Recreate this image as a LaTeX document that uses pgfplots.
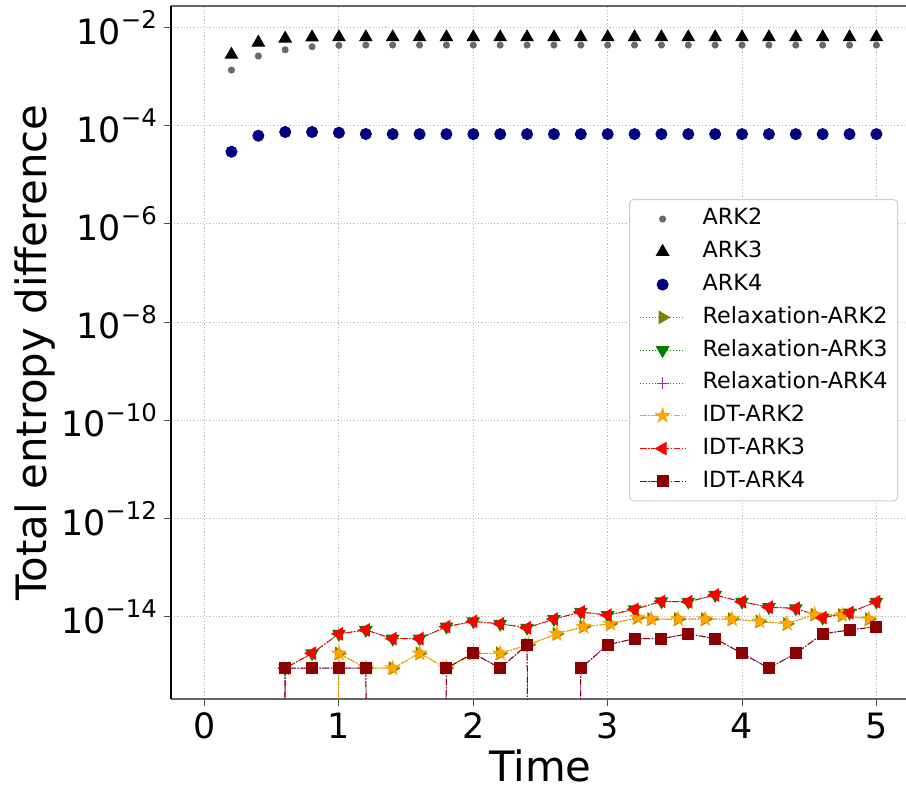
\documentclass[border=0pt]{standalone}
\usepackage{pgfplots}
\pgfplotsset{compat=1.18}
\usepackage{fontspec}
\setmainfont{DejaVu Sans}
\usetikzlibrary{plotmarks}

\definecolor{cark2}{HTML}{696969}
\definecolor{cark4}{HTML}{000080}
\definecolor{colive}{HTML}{808000}
\definecolor{cgreen}{HTML}{008000}
\definecolor{cviolet}{HTML}{8A2BE2}
\definecolor{corange}{HTML}{FFA500}
\definecolor{cred}{HTML}{FF0000}
\definecolor{cdred}{HTML}{8B0000}

\pgfdeclareplotmark{fstar}{%
  \pgfpathmoveto{\pgfpointpolar{90}{\pgfplotmarksize}}%
  \pgfpathlineto{\pgfpointpolar{126}{0.382\pgfplotmarksize}}%
  \pgfpathlineto{\pgfpointpolar{162}{\pgfplotmarksize}}%
  \pgfpathlineto{\pgfpointpolar{198}{0.382\pgfplotmarksize}}%
  \pgfpathlineto{\pgfpointpolar{234}{\pgfplotmarksize}}%
  \pgfpathlineto{\pgfpointpolar{270}{0.382\pgfplotmarksize}}%
  \pgfpathlineto{\pgfpointpolar{306}{\pgfplotmarksize}}%
  \pgfpathlineto{\pgfpointpolar{342}{0.382\pgfplotmarksize}}%
  \pgfpathlineto{\pgfpointpolar{18}{\pgfplotmarksize}}%
  \pgfpathlineto{\pgfpointpolar{54}{0.382\pgfplotmarksize}}%
  \pgfpathclose\pgfusepathqfillstroke}

\newcommand{\yl}[1]{10\raisebox{0.45em}{\fontsize{12.25}{12}\selectfont −#1}}

\pgfplotstableread{
t v
0.2 1.36e-3
0.4 2.63e-3
0.6 3.53e-3
0.8 4.07e-3
1.0 4.33e-3
1.2 4.40e-3
1.4 4.40e-3
1.6 4.40e-3
1.8 4.40e-3
2.0 4.40e-3
2.2 4.40e-3
2.4 4.40e-3
2.6 4.40e-3
2.8 4.40e-3
3.0 4.40e-3
3.2 4.40e-3
3.4 4.40e-3
3.6 4.40e-3
3.8 4.40e-3
4.0 4.40e-3
4.2 4.40e-3
4.4 4.40e-3
4.6 4.40e-3
4.8 4.40e-3
5.0 4.40e-3
}\arktwo

\pgfplotstableread{
t v
0.2 2.8e-3
0.4 4.95e-3
0.6 5.97e-3
0.8 6.3e-3
1.0 6.35e-3
1.2 6.35e-3
1.4 6.35e-3
1.6 6.35e-3
1.8 6.35e-3
2.0 6.35e-3
2.2 6.35e-3
2.4 6.35e-3
2.6 6.35e-3
2.8 6.35e-3
3.0 6.35e-3
3.2 6.35e-3
3.4 6.35e-3
3.6 6.35e-3
3.8 6.35e-3
4.0 6.35e-3
4.2 6.35e-3
4.4 6.35e-3
4.6 6.35e-3
4.8 6.35e-3
5.0 6.35e-3
}\arkthree

\pgfplotstableread{
t v
0.2 2.95e-5
0.4 6.25e-5
0.6 7.44e-5
0.8 7.44e-5
1.0 7.2e-5
1.2 6.78e-5
1.4 6.75e-5
1.6 6.75e-5
1.8 6.75e-5
2.0 6.75e-5
2.2 6.75e-5
2.4 6.75e-5
2.6 6.75e-5
2.8 6.75e-5
3.0 6.75e-5
3.2 6.75e-5
3.4 6.75e-5
3.6 6.75e-5
3.8 6.75e-5
4.0 6.75e-5
4.2 6.75e-5
4.4 6.75e-5
4.6 6.75e-5
4.8 6.75e-5
5.0 6.75e-5
}\arkfour

% zero differences are stored as 1e-80 (below the axis) so the line drops out of view
\pgfplotstableread{
t v
0.8 1e-80
1.0 1.78e-15
1.2 8.88e-16
1.4 8.88e-16
1.6 1.78e-15
1.8 8.88e-16
2.0 1.78e-15
2.2 1.78e-15
2.41 2.66e-15
2.62 4.44e-15
2.82 6.22e-15
3.02 7.11e-15
3.22 9.5e-15
3.325 8.88e-15
3.525 8.88e-15
3.725 8.88e-15
3.925 8.88e-15
4.13 7.99e-15
4.335 7.11e-15
4.54 1.1e-14
4.745 1.07e-14
4.945 8.88e-15
}\idttwo

\pgfplotstableread{
t v
0.4 1e-80
0.6 8.88e-16
0.8 1.78e-15
1.0 4.44e-15
1.2 5.33e-15
1.4 3.55e-15
1.6 3.55e-15
1.8 6.22e-15
2.0 7.99e-15
2.2 7.11e-15
2.4 5.9e-15
2.6 8.88e-15
2.8 1.24e-14
3.0 1.07e-14
3.2 1.4e-14
3.4 2.04e-14
3.6 2.0e-14
3.8 2.75e-14
4.0 2.0e-14
4.2 1.55e-14
4.4 1.47e-14
4.6 9.5e-15
4.8 1.2e-14
5.0 2.0e-14
}\idtthree

\pgfplotstableread{
t v
0.4 1e-80
0.6 8.88e-16
0.8 8.88e-16
1.0 8.88e-16
1.2 8.88e-16
1.4 1e-80
1.6 1e-80
1.8 8.88e-16
2.0 1.78e-15
2.2 8.88e-16
2.4 2.66e-15
2.6 1e-80
2.8 8.88e-16
3.0 2.66e-15
3.2 3.55e-15
3.4 3.55e-15
3.6 4.44e-15
3.8 3.55e-15
4.0 1.78e-15
4.2 8.88e-16
4.4 1.78e-15
4.6 4.44e-15
4.8 5.33e-15
5.0 6.22e-15
}\idtfour

\begin{document}
\begin{tikzpicture}
\begin{axis}[
  name=ax,
  scale only axis, width=369.5bp, height=346.5bp,
  ymode=log,
  xmin=-0.25, xmax=5.25, ymin=2.09e-16, ymax=2.75e-2,
  xtick={0,1,2,3,4,5},
  ytick={1e-14,1e-12,1e-10,1e-8,1e-6,1e-4,1e-2},
  yticklabels={\yl{14},\yl{12},\yl{10},\yl{8},\yl{6},\yl{4},\yl{2}},
  minor ytick={}, minor xtick={},
  grid=major,
  major grid style={line width=0.5bp, black!25, dash pattern=on 0.6bp off 1bp},
  tick align=outside, xtick pos=left, ytick pos=left,
  major tick length=3.5bp,
  tick style={black!70, line width=0.5bp},
  separate axis lines,
  x axis line style={black!60, line width=0.9bp},
  y axis line style={black, line width=0.9bp},
  ticklabel style={font=\fontsize{17.5}{20}\selectfont},
  /pgf/number format/assume math mode=true,
  xlabel={Time}, ylabel={Total entropy difference},
  label style={font=\fontsize{21}{25}\selectfont},
  xlabel style={at={(rel axis cs:0.5,-0.097)}, anchor=center},
  ylabel style={at={(rel axis cs:-0.184,0.5)}, anchor=center},
  legend image code/.code={\draw[mark repeat=2,mark phase=2] plot coordinates {(0bp,0bp)(11.25bp,0bp)(22.5bp,0bp)};},
  marklegend/.style={legend image code/.code={\draw[opacity=0] (0bp,0bp) -- (22.5bp,0bp); \draw plot coordinates {(11.25bp,0bp)};}},
  legend cell align=left,
  legend style={at={(0.9838,0.7215)}, anchor=north east,
    font=\fontsize{11.2}{13}\selectfont,
    draw=black!20, line width=0.5bp, rounded corners=2bp, fill=white,
    inner xsep=5bp, inner ysep=4.5bp,
    row sep=5.9bp, column sep=8.5bp,
    nodes={inner sep=0pt, text height=8.2bp, text depth=2.3bp}},
  every axis plot/.append style={line width=0.5bp},
]
\addplot[only marks, mark=*, mark size=1.5bp, color=cark2, marklegend] table[x=t,y=v] {\arktwo};
\addlegendentry{ARK2}
\addplot[only marks, mark=triangle*, mark size=3.5bp, color=black, marklegend] table[x=t,y=v] {\arkthree};
\addlegendentry{ARK3}
\addplot[only marks, mark=*, mark size=2.75bp, color=cark4, marklegend] table[x=t,y=v] {\arkfour};
\addlegendentry{ARK4}
\addplot[color=colive, dash pattern=on 0.6bp off 0.9bp, mark=triangle*, mark size=3.5bp, mark options={solid, rotate=-90}] table[x=t,y=v] {\idttwo};
\addlegendentry{Relaxation-ARK2}
\addplot[color=cgreen, dash pattern=on 0.6bp off 0.9bp, mark=triangle*, mark size=3.5bp, mark options={solid, rotate=180}] table[x=t,y=v] {\idtthree};
\addlegendentry{Relaxation-ARK3}
\addplot[color=cviolet, dash pattern=on 0.6bp off 0.9bp, mark=+, mark size=3bp, mark options={solid}] table[x=t,y=v] {\idtfour};
\addlegendentry{Relaxation-ARK4}
\addplot[color=corange, dash pattern=on 3.2bp off 0.9bp on 0.6bp off 0.9bp, mark=fstar, mark size=3.6bp, mark options={solid}] table[x=t,y=v] {\idttwo};
\addlegendentry{IDT-ARK2}
\addplot[color=cred, dash pattern=on 3.2bp off 0.9bp on 0.6bp off 0.9bp, mark=triangle*, mark size=3.5bp, mark options={solid, rotate=90}] table[x=t,y=v] {\idtthree};
\addlegendentry{IDT-ARK3}
\addplot[color=cdred, dash pattern=on 3.2bp off 0.9bp on 0.6bp off 0.9bp, mark=square*, mark size=2.75bp, mark options={solid}] table[x=t,y=v] {\idtfour};
\addlegendentry{IDT-ARK4}
\end{axis}
\pgfresetboundingbox
\path[use as bounding box] ([shift={(-85.5bp,-45.5bp)}]ax.south west) rectangle ([shift={(367.5bp,349.5bp)}]ax.south west);
\end{tikzpicture}
\end{document}
